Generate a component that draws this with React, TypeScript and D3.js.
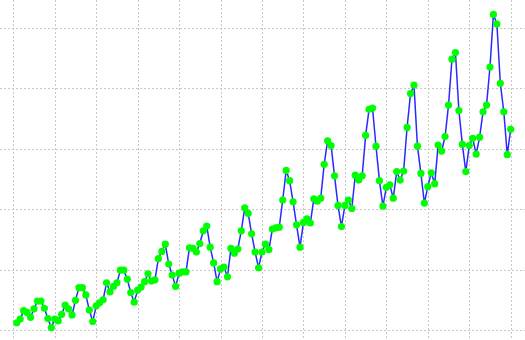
import React from "react";
import * as d3 from "d3";

const years = [1949, 1950, 1951, 1952, 1953, 1954, 1955, 1956, 1957, 1958, 1959, 1960];
const passengers = [
  112, 118, 132, 129, 121, 135, 148, 148, 136, 119, 104, 118,
  115, 126, 141, 135, 125, 149, 170, 170, 158, 133, 114, 140,
  145, 150, 178, 163, 172, 178, 199, 199, 184, 162, 146, 166,
  171, 180, 193, 181, 183, 218, 230, 242, 209, 191, 172, 194,
  196, 196, 236, 235, 229, 243, 264, 272, 237, 211, 180, 201,
  204, 188, 235, 227, 234, 264, 302, 293, 259, 229, 203, 229,
  242, 233, 267, 269, 270, 315, 364, 347, 312, 274, 237, 278,
  284, 277, 317, 313, 318, 374, 413, 405, 355, 306, 271, 306,
  315, 301, 356, 348, 355, 422, 465, 467, 404, 347, 305, 336,
  340, 318, 362, 348, 363, 435, 491, 505, 404, 359, 310, 337,
  360, 342, 406, 396, 420, 472, 548, 559, 463, 407, 362, 405,
  417, 391, 419, 461, 472, 535, 622, 606, 508, 461, 390, 432,
];
const yTicks = [100, 200, 300, 400, 500, 600];
const xTicks = d3.range(0, 145, 12);

const W = 525;
const H = 340;

export default function App() {
  const x = d3.scaleLinear().domain([0, 144]).range([13.3, 510.7]);
  const y = d3.scaleLinear().domain([100, 600]).range([330, 27.7]);
  const pts = passengers.map((v, i) => ({ i: i + 1, v, year: years[Math.floor(i / 12)] }));
  const line = d3
    .line<{ i: number; v: number }>()
    .x((d) => x(d.i))
    .y((d) => y(d.v));

  return (
    <svg
      width={W}
      height={H}
      style={{ position: "fixed", left: 0, top: 0, background: "#fff" }}
    >
      <g>
        {yTicks.map((t) => (
          <line
            key={"h" + t}
            x1={0}
            x2={W}
            y1={Math.round(y(t)) + 0.5}
            y2={Math.round(y(t)) + 0.5}
            stroke="#c8c8c8"
            strokeDasharray="2,2"
          />
        ))}
        {xTicks.map((t) => (
          <line
            key={"v" + t}
            x1={Math.round(x(t)) + 0.5}
            x2={Math.round(x(t)) + 0.5}
            y1={0}
            y2={H}
            stroke="#c8c8c8"
            strokeDasharray="2,2"
          />
        ))}
      </g>
      <path d={line(pts) || ""} fill="none" stroke="#2a2aff" strokeWidth={1.5} />
      <g>
        {pts.map((d) => (
          <circle key={d.i} cx={x(d.i)} cy={y(d.v)} r={3.6} fill="#00ff00" />
        ))}
      </g>
    </svg>
  );
}
